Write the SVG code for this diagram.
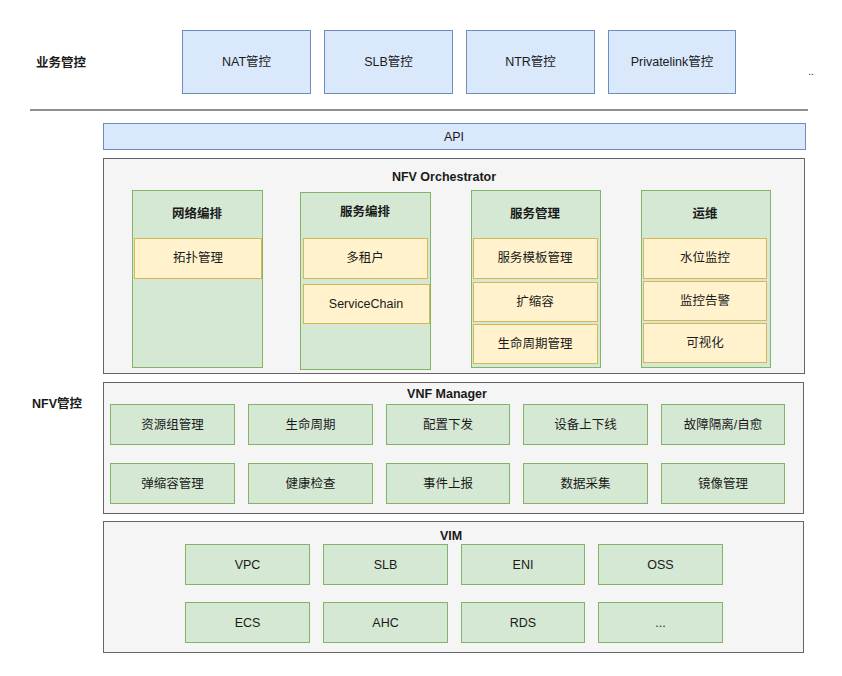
<svg xmlns="http://www.w3.org/2000/svg" width="842" height="676" viewBox="0 0 842 676">
<style>
text{font-family:"Liberation Sans","Noto Sans CJK SC",sans-serif;font-size:12.5px;fill:#1a1a1a;text-anchor:middle;dominant-baseline:central}
.b{font-weight:bold}
.l{text-anchor:start}
.blue{fill:#dae8fc;stroke:#6c8ebf;stroke-width:1}
.green{fill:#d5e8d4;stroke:#82b366;stroke-width:1}
.yellow{fill:#fff2cc;stroke:#d6b656;stroke-width:1}
.gray{fill:#f5f5f5;stroke:#666666;stroke-width:1}
</style>
<rect width="842" height="676" fill="#ffffff"/>
<text class="b l" x="36" y="63">业务管控</text>
<text class="b l" x="32" y="404">NFV管控</text>
<g id="nat"><rect class="blue" x="182.5" y="30.5" width="128" height="63"/><text x="246.5" y="62">NAT管控</text></g>
<g id="slb-ctl"><rect class="blue" x="324.5" y="30.5" width="128" height="63"/><text x="388.5" y="62">SLB管控</text></g>
<g id="ntr"><rect class="blue" x="466.5" y="30.5" width="128" height="63"/><text x="530.5" y="62">NTR管控</text></g>
<g id="privatelink"><rect class="blue" x="608.5" y="30.5" width="127" height="63"/><text x="672" y="62">Privatelink管控</text></g>
<text x="811" y="71" style="font-size:10px">..</text>
<g id="connectors"><line x1="30" y1="110" x2="808" y2="110" stroke="#222" stroke-width="1.2"/></g>
<g id="api"><rect class="blue" x="103.5" y="123.5" width="702" height="26"/><text x="454" y="137">API</text></g>
<g id="orchestrator">
<rect class="gray" x="103.5" y="158.5" width="701" height="215"/>
<text class="b" x="444" y="177">NFV Orchestrator</text>
</g>
<g id="net-orch">
<rect class="green" x="132.5" y="190.5" width="130" height="177"/>
<text class="b" x="197" y="214">网络编排</text>
<rect class="yellow" x="134.5" y="238.5" width="127" height="40"/><text x="198" y="258">拓扑管理</text>
</g>
<g id="svc-orch">
<rect class="green" x="300.5" y="192.5" width="130" height="177"/>
<text class="b" x="365" y="212">服务编排</text>
<rect class="yellow" x="303.5" y="238.5" width="124" height="40"/><text x="365" y="258">多租户</text>
<rect class="yellow" x="303.5" y="284.5" width="126" height="39"/><text x="366" y="304">ServiceChain</text>
</g>
<g id="svc-mgmt">
<rect class="green" x="471.5" y="190.5" width="129" height="177"/>
<text class="b" x="535" y="214">服务管理</text>
<rect class="yellow" x="473.5" y="238.5" width="124" height="40"/><text x="535" y="258">服务模板管理</text>
<rect class="yellow" x="473.5" y="282.5" width="124" height="39"/><text x="535" y="302">扩缩容</text>
<rect class="yellow" x="473.5" y="324.5" width="124" height="39"/><text x="535" y="344">生命周期管理</text>
</g>
<g id="ops">
<rect class="green" x="641.5" y="190.5" width="129" height="177"/>
<text class="b" x="705" y="214">运维</text>
<rect class="yellow" x="643.5" y="238.5" width="123" height="40"/><text x="705" y="258">水位监控</text>
<rect class="yellow" x="643.5" y="281.5" width="123" height="39"/><text x="705" y="301">监控告警</text>
<rect class="yellow" x="643.5" y="323.5" width="123" height="39"/><text x="705" y="343">可视化</text>
</g>
<g id="vnfm">
<rect class="gray" x="103.5" y="382.5" width="700" height="131"/>
<text class="b" x="447" y="394">VNF Manager</text>
</g>
<g id="res-group"><rect class="green" x="110.5" y="404.5" width="124" height="40"/><text x="172.5" y="424.5">资源组管理</text></g>
<g id="lifecycle"><rect class="green" x="248.5" y="404.5" width="124" height="40"/><text x="310.5" y="424.5">生命周期</text></g>
<g id="config"><rect class="green" x="386.5" y="404.5" width="123" height="40"/><text x="448" y="424.5">配置下发</text></g>
<g id="online"><rect class="green" x="523.5" y="404.5" width="124" height="40"/><text x="585.5" y="424.5">设备上下线</text></g>
<g id="fault"><rect class="green" x="661.5" y="404.5" width="123" height="40"/><text x="723" y="424.5">故障隔离/自愈</text></g>
<g id="elastic"><rect class="green" x="110.5" y="463.5" width="124" height="40"/><text x="172.5" y="483.5">弹缩容管理</text></g>
<g id="health"><rect class="green" x="248.5" y="463.5" width="124" height="40"/><text x="310.5" y="483.5">健康检查</text></g>
<g id="event"><rect class="green" x="386.5" y="463.5" width="123" height="40"/><text x="448" y="483.5">事件上报</text></g>
<g id="data"><rect class="green" x="523.5" y="463.5" width="124" height="40"/><text x="585.5" y="483.5">数据采集</text></g>
<g id="image"><rect class="green" x="661.5" y="463.5" width="123" height="40"/><text x="723" y="483.5">镜像管理</text></g>
<g id="vim">
<rect class="gray" x="103.5" y="521.5" width="700" height="131"/>
<text class="b" x="451" y="536">VIM</text>
</g>
<g id="vpc"><rect class="green" x="185.5" y="544.5" width="124" height="40"/><text x="247.5" y="564.5">VPC</text></g>
<g id="slb"><rect class="green" x="323.5" y="544.5" width="124" height="40"/><text x="385.5" y="564.5">SLB</text></g>
<g id="eni"><rect class="green" x="461.5" y="544.5" width="123" height="40"/><text x="523" y="564.5">ENI</text></g>
<g id="oss"><rect class="green" x="598.5" y="544.5" width="124" height="40"/><text x="660.5" y="564.5">OSS</text></g>
<g id="ecs"><rect class="green" x="185.5" y="602.5" width="124" height="40"/><text x="247.5" y="622.5">ECS</text></g>
<g id="ahc"><rect class="green" x="323.5" y="602.5" width="124" height="40"/><text x="385.5" y="622.5">AHC</text></g>
<g id="rds"><rect class="green" x="461.5" y="602.5" width="123" height="40"/><text x="523" y="622.5">RDS</text></g>
<g id="more"><rect class="green" x="598.5" y="602.5" width="124" height="40"/><text x="660.5" y="622.5">...</text></g>
</svg>
